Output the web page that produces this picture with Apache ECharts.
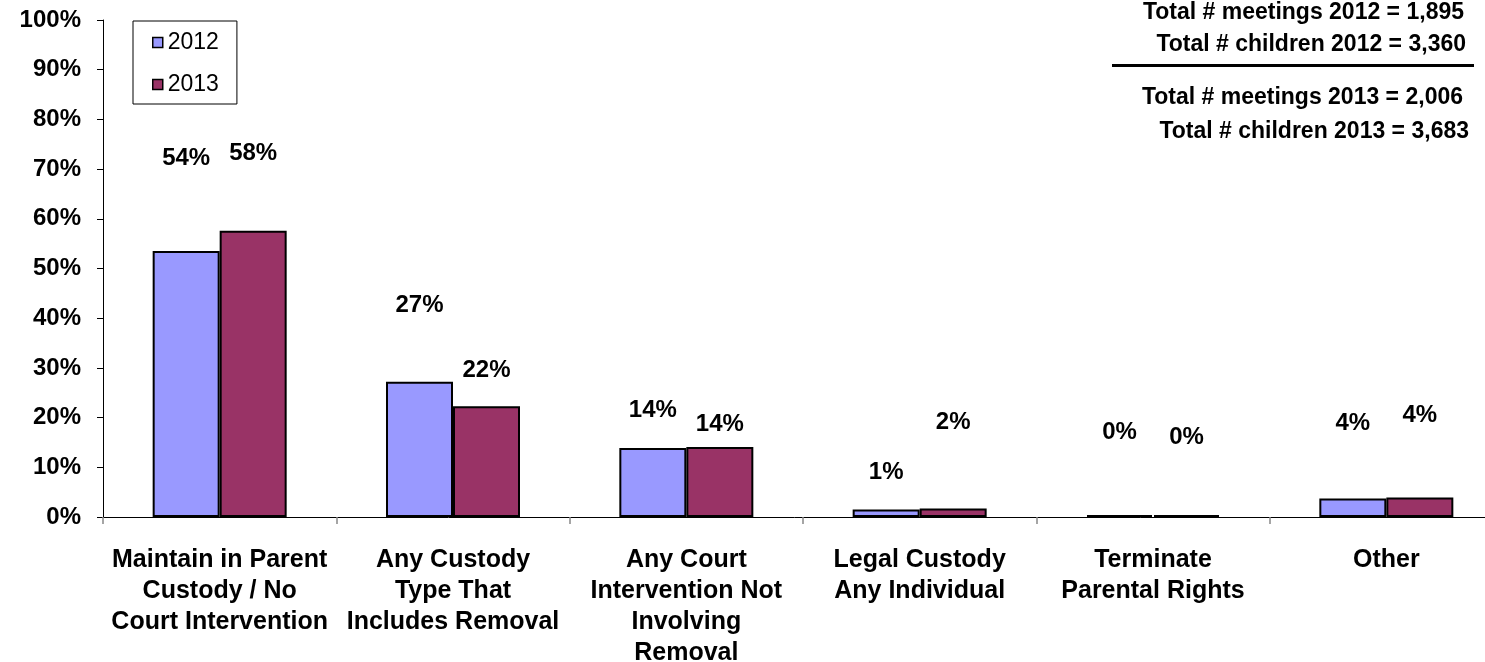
<!DOCTYPE html>
<html><head><meta charset="utf-8">
<script src="https://cdn.jsdelivr.net/npm/echarts@6/dist/echarts.min.js"></script>
<style>html,body{margin:0;padding:0;background:#fff}#c{width:1485px;height:662px}</style>
</head><body><div id="c"></div>
<script>
const categories = [
  "Maintain in Parent\nCustody / No\nCourt Intervention",
  "Any Custody\nType That\nIncludes Removal",
  "Any Court\nIntervention Not\nInvolving\nRemoval",
  "Legal Custody\nAny Individual",
  "Terminate\nParental Rights",
  "Other"
];
const values2012 = [53.5, 27.2, 13.9, 1.5, 0.4, 3.7];
const values2013 = [57.6, 22.3, 14.1, 1.7, 0.4, 3.9];
const labels2012 = ["54%", "27%", "14%", "1%", "0%", "4%"];
const labels2013 = ["58%", "22%", "14%", "2%", "0%", "4%"];
const yTicks = [0, 10, 20, 30, 40, 50, 60, 70, 80, 90, 100];
// label distances above bar tops (px), as placed in the original
const labelGap2012 = [81, 64, 26, 25, 71, 63];
const labelGap2013 = [65, 24, 11, 74, 66, 70];
const totals = [
  "Total # meetings 2012 = 1,895",
  "Total # children 2012 = 3,360",
  "Total # meetings 2013 = 2,006",
  "Total # children 2013 = 3,683"
];

const FONT = "'Liberation Sans', Arial, sans-serif";
const chart = echarts.init(document.getElementById('c'));

function mk(vals, labs, gaps) {
  return vals.map((v, i) => ({
    value: v,
    label: { distance: gaps[i], formatter: labs[i] }
  }));
}

chart.setOption({
  animation: false,
  backgroundColor: '#fff',
  textStyle: { fontFamily: FONT },
  grid: { left: 103, right: -18, top: 20, bottom: 145, containLabel: false, outerBoundsMode: 'none' },
  legend: {
    orient: 'vertical', left: 133, top: 21,
    padding: [10, 18, 8, 19],
    itemWidth: 10, itemHeight: 10, itemGap: 19, itemTextGap: 5,
    borderColor: '#000', borderWidth: 1,
    icon: 'rect',
    itemStyle: { borderColor: '#000', borderWidth: 1.5 },
    textStyle: { fontFamily: FONT, fontSize: 23, color: '#000', lineHeight: 23 },
    data: ['2012', '2013']
  },
  xAxis: {
    type: 'category', data: categories,
    axisLine: { lineStyle: { color: '#000', width: 1 } },
    axisTick: { show: true, length: 7, lineStyle: { color: '#888', width: 1.5 } },
    axisLabel: { interval: 0, margin: 28, fontFamily: FONT, fontSize: 25, fontWeight: 'bold', color: '#000', lineHeight: 31 }
  },
  yAxis: {
    type: 'value', min: 0, max: 100, interval: 10,
    splitLine: { show: false },
    axisLine: { show: true, lineStyle: { color: '#000', width: 1 } },
    axisTick: { show: true, length: 6, lineStyle: { color: '#000' } },
    axisLabel: { margin: 22, fontFamily: FONT, fontSize: 24, fontWeight: 'bold', color: '#000',
      formatter: v => (yTicks.indexOf(v) >= 0 ? v + '%' : '') }
  },
  series: [
    {
      name: '2012', type: 'bar', data: mk(values2012, labels2012, labelGap2012),
      barWidth: 67, barGap: '0%',
      itemStyle: { color: '#9999FF', borderColor: '#000', borderWidth: 2 },
      label: { show: true, position: 'top', fontFamily: FONT, fontSize: 24, fontWeight: 'bold', color: '#000' }
    },
    {
      name: '2013', type: 'bar', data: mk(values2013, labels2013, labelGap2013),
      barWidth: 67, barGap: '0%',
      itemStyle: { color: '#993366', borderColor: '#000', borderWidth: 2 },
      label: { show: true, position: 'top', fontFamily: FONT, fontSize: 24, fontWeight: 'bold', color: '#000' }
    }
  ],
  graphic: [
    { type: 'text', right: 21, top: 1, style: { text: totals[0], font: "bold 23px " + FONT, fill: '#000' } },
    { type: 'text', right: 19, top: 33, style: { text: totals[1], font: "bold 23px " + FONT, fill: '#000' } },
    { type: 'rect', shape: { x: 1112, y: 64, width: 362, height: 3 }, style: { fill: '#000' } },
    { type: 'text', right: 22, top: 86, style: { text: totals[2], font: "bold 23px " + FONT, fill: '#000' } },
    { type: 'text', right: 16, top: 120, style: { text: totals[3], font: "bold 23px " + FONT, fill: '#000' } }
  ]
});
</script></body></html>
